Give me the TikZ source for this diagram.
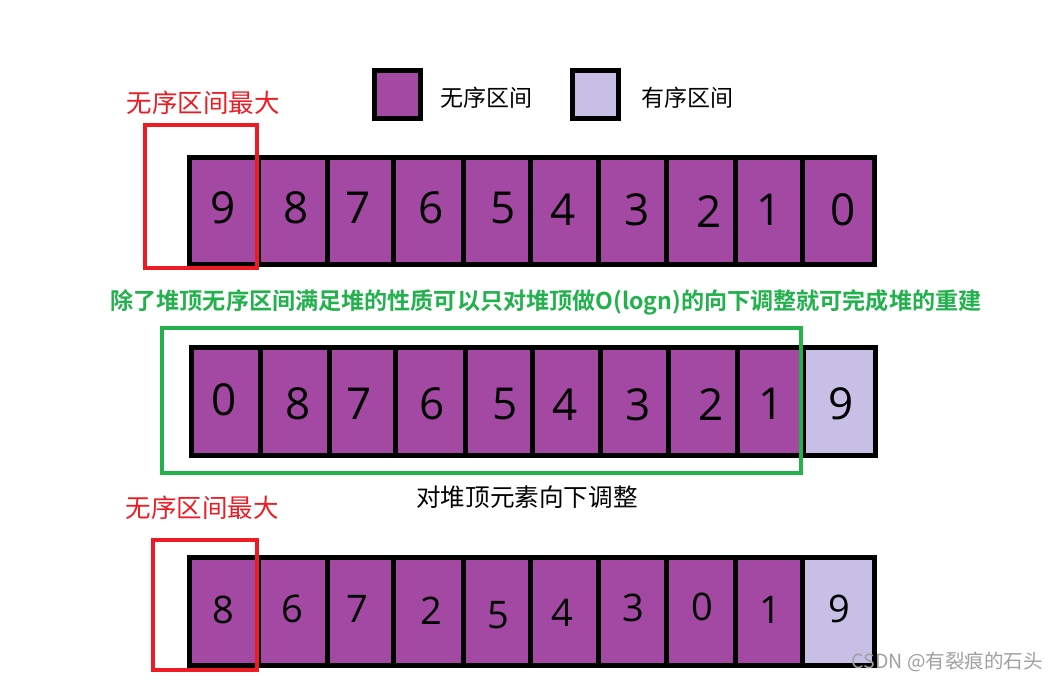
\documentclass[tikz,border=0pt]{standalone}
\usepackage{fontspec}
\setmainfont{Open Sans}
\newfontfamily\cjk{Noto Sans CJK SC}
\newfontfamily\cjkb{Noto Sans CJK SC Bold}
\definecolor{unsorted}{HTML}{A349A4}
\definecolor{sorted}{HTML}{C8BFE7}
\definecolor{redbox}{HTML}{ED1C24}
\definecolor{greenbox}{HTML}{22B14C}
\definecolor{wm}{HTML}{A0A0A0}
\tikzset{
  cellunsorted/.style={draw=black, line width=5pt, fill=unsorted},
  cellsorted/.style={draw=black, line width=5pt, fill=sorted},
  digitbig/.style={inner sep=0pt, font=\fontsize{44}{44}\selectfont},
  digitsmall/.style={inner sep=0pt, font=\fontsize{38}{38}\selectfont},
  redlabel/.style={inner sep=0pt, text=redbox, font=\cjk\fontsize{25.5}{25.5}\selectfont},
  txtlabel/.style={inner sep=0pt, font=\cjk\fontsize{23}{23}\selectfont},
  hilite/.style={draw=redbox, line width=4.5pt},
  gbox/.style={draw=greenbox, line width=4.5pt},
}
\begin{document}
\begin{tikzpicture}[x=1pt,y=-1pt]
\useasboundingbox[fill=white] (0,0) rectangle (1059,680);

% legend
\path[cellunsorted] (374,70) rectangle (420,118);
\node[txtlabel, anchor=west] (leg1) at (440,98) {无序区间};
\path[cellsorted] (572,70) rectangle (618,118);
\node[txtlabel, anchor=west] (leg2) at (641,98) {有序区间};

% top row
\foreach \a/\b in {189.5/258,258/327,327/393.5,393.5/463,463/530.5,530.5/598.5,598.5/666.5,666.5/735.5,735.5/802.5,802.5/874.5}
  \path[cellunsorted] (\a,157) rectangle (\b,264);
\node[digitbig] (t1) at (223,208) {9};
\node[digitbig] (t2) at (296,208) {8};
\node[digitbig] (t3) at (358,208) {7};
\node[digitbig] (t4) at (431,208) {6};
\node[digitbig] (t5) at (503,208) {5};
\node[digitbig] (t6) at (563,210) {4};
\node[digitbig] (t7) at (637,210) {3};
\node[digitbig] (t8) at (709,212) {2};
\node[digitbig] (t9) at (769,210) {1};
\node[digitbig] (t10) at (843,210) {0};
\draw[hilite] (145,125) rectangle (257,268);
\node[redlabel] (r1) at (203,103) {无序区间最大};

% green explanation
\node[inner sep=0pt, text=greenbox, font=\cjkb\fontsize{23.1}{23.1}\selectfont] (expl) at (546,302) {除了堆顶无序区间满足堆的性质可以只对堆顶做O(logn)的向下调整就可完成堆的重建};

% middle row
\foreach \a/\b in {191/260.5,260.5/329.5,329.5/395.5,395.5/465,465/532.5,532.5/600,600/668.5,668.5/737.5,737.5/803.5}
  \path[cellunsorted] (\a,347) rectangle (\b,455);
\path[cellsorted] (803.5,347) rectangle (875.5,455);
\node[digitbig] (m1) at (224,400) {0};
\node[digitbig] (m2) at (298,404) {8};
\node[digitbig] (m3) at (359,404) {7};
\node[digitbig] (m4) at (432,404) {6};
\node[digitbig] (m5) at (505,404) {5};
\node[digitbig] (m6) at (565,405) {4};
\node[digitbig] (m7) at (638,405) {3};
\node[digitbig] (m8) at (711,405) {2};
\node[digitbig] (m9) at (771,404) {1};
\node[digitbig] (m10) at (841,404) {9};
\draw[gbox] (162,328) rectangle (801,473);
\node[txtlabel, font=\cjk\fontsize{24.6}{24.6}\selectfont] (adj) at (527,497) {对堆顶元素向下调整};

% bottom row
\node[redlabel] (r2) at (202,508) {无序区间最大};
\foreach \a/\b in {189.5/258,258/327,327/393.5,393.5/463,463/530.5,530.5/598.5,598.5/666.5,666.5/735.5,735.5/802.5}
  \path[cellunsorted] (\a,557) rectangle (\b,665);
\path[cellsorted] (802.5,557) rectangle (874.5,665);
\node[digitsmall] (b1) at (223,610) {8};
\node[digitsmall] (b2) at (292,609) {6};
\node[digitsmall] (b3) at (357,609) {7};
\node[digitsmall] (b4) at (431,611) {2};
\node[digitsmall] (b5) at (498,615) {5};
\node[digitsmall] (b6) at (562,613) {4};
\node[digitsmall] (b7) at (633,608) {3};
\node[digitsmall] (b8) at (702,607) {0};
\node[digitsmall] (b9) at (770,610) {1};
\node[digitsmall] (b10) at (839,609) {9};
\draw[hilite] (153,540) rectangle (257,670);

% watermark
\node[inner sep=0pt, anchor=east, text=wm, font=\cjk\fontsize{19.5}{19.5}\selectfont] (wmk) at (1043,662) {CSDN @有裂痕的石头};
\end{tikzpicture}
\end{document}
